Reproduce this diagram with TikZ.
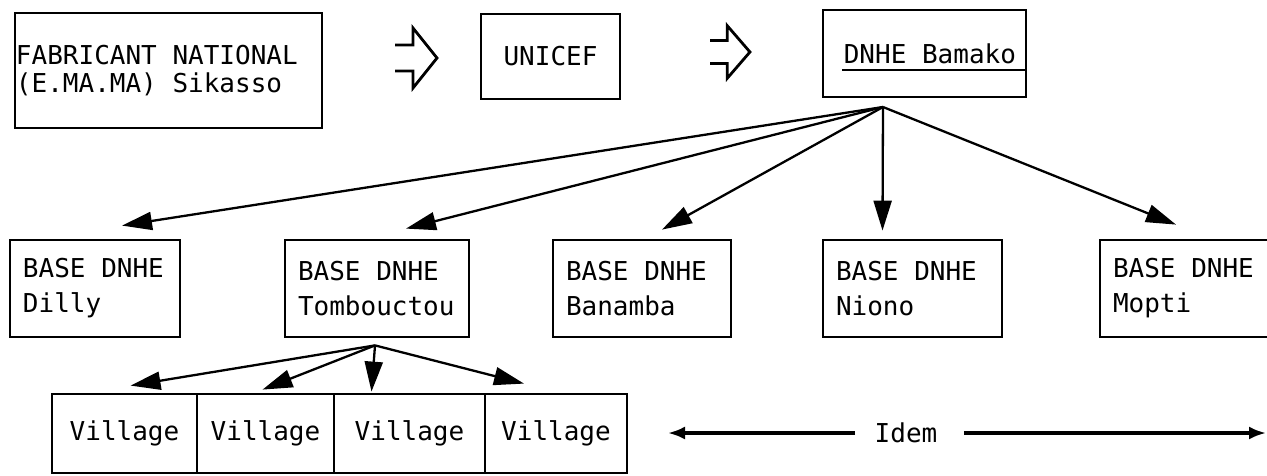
\documentclass[tikz,border=0pt]{standalone}
\usepackage{fontspec}
\setmonofont{DejaVu Sans Mono}
\usetikzlibrary{arrows.meta}

% open outline arrow used between the top boxes
\tikzset{
	pics/hollowarrow/.style={code={
		\draw[line width=2.8pt, line join=miter]
			(-21,-13) -- (-3,-13) -- (-3,-30) -- (21,0) -- (-3,30) -- (-3,13) -- (-21,13);
	}},
}

\begin{document}
\begin{tikzpicture}[%
	x=1pt, y=-1pt,
	every node/.style={
		font=\ttfamily\fontsize{26}{35}\selectfont,
		% fixed-pitch spacing, as on a line printer
		execute at begin node={\spaceskip=0.602em\relax},
	},
	box/.style={draw, line width=2.8pt, inner xsep=13pt, inner ysep=0pt, align=left},
	fan/.style={line width=2.3pt, -{Triangle[length=30pt, width=18pt]}},
	idemline/.style={line width=3.2pt, -{Latex[length=17pt, width=13pt]}},
	]
	\useasboundingbox (0,0) rectangle (1267,475);
	\clip (0,0) rectangle (1267,475);

	% supply chain along the top
	\node[box, inner xsep=1pt, text width=305pt, minimum height=115pt,
		font=\ttfamily\fontsize{26}{28}\selectfont] (fab) at (168.5,70.5)
		{FABRICANT NATIONAL\\(E.MA.MA) Sikasso};
	\node[box, align=center, text width=113pt, minimum height=85pt] (unicef) at (550.5,56.5) {UNICEF};
	\node[box, align=right, inner xsep=10pt, text width=183pt, minimum height=87pt] (bamako) at (924.5,53.5) {DNHE Bamako};

	% hollow arrows between them
	\pic at (416,58) {hollowarrow};
	\pic[xscale=0.95, yscale=0.88] at (730,52) {hollowarrow};

	% rule under the Bamako label
	\draw[line width=2.6pt] (842,70) -- (bamako.east |- 842,70);

	% regional bases
	\foreach \n/\c/\w/\t in {dilly/95/144/Dilly, tomb/377/158/Tombouctou, banamba/642/152/Banamba,
		niono/912.5/153/Niono, mopti/1192/158/Mopti}{
		\node[box, text width=\w pt, minimum height=97pt] (\n) at (\c,288.5) {BASE DNHE\\\t};
	}

	% villages served from Tombouctou
	\foreach \n/\c/\w in {v1/124.5/145, v2/265.5/137, v3/409.5/151, v4/556/142}{
		\node[box, align=center, inner xsep=0pt, minimum width=\w pt, minimum height=79pt] (\n) at (\c,433.5) {Village};
	}

	% distribution from Bamako
	\coordinate (hub) at (883,107);
	\foreach \n/\dx/\dy in {dilly/27/13, tomb/29/10, banamba/20/9, niono/-30/8, mopti/-16/14}{
		\draw[fan] (hub) -- ([xshift=\dx, yshift=\dy]\n.north);
	}

	% distribution from Tombouctou
	\coordinate (tombfoot) at ([xshift=-2, yshift=-7]tomb.south);
	\foreach \n/\dx/\dy in {v1/6/7, v2/-3/3, v3/-38/1, v4/-32/9}{
		\draw[fan] (tombfoot) -- ([xshift=\dx, yshift=\dy]\n.north);
	}

	% same pattern for the other bases
	\node (idem) at (906,433) {Idem};
	\coordinate (idemleft) at (668,433);
	\coordinate (idemright) at (1266,433);
	\draw[idemline, shorten <=16pt] (idem.west) -- (idemleft);
	\draw[idemline, shorten <=23pt] (idem.east) -- (idemright);
\end{tikzpicture}
\end{document}
